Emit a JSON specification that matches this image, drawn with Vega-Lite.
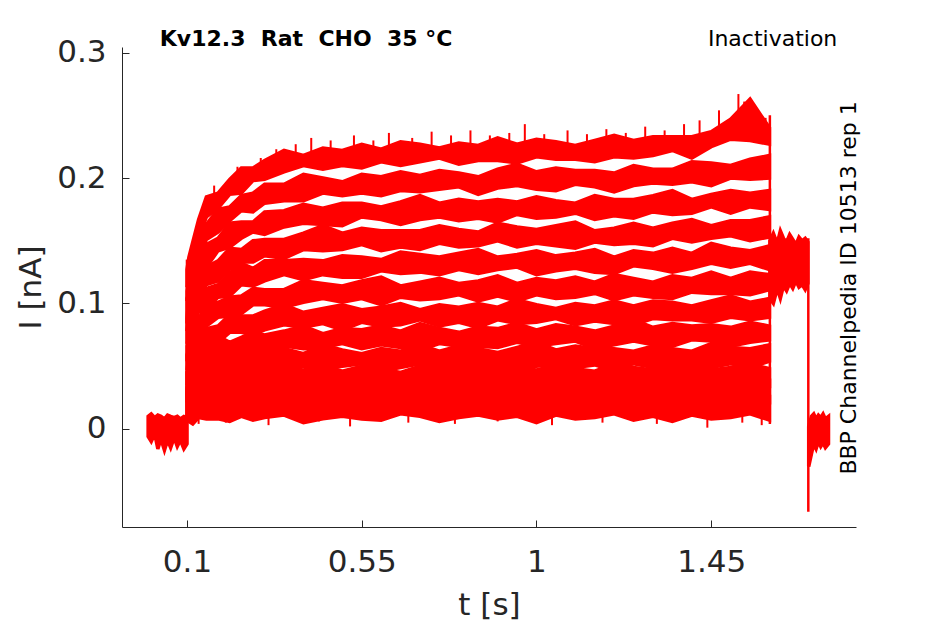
{
  "$schema": "https://vega.github.io/schema/vega-lite/v6.json",
  "width": 734,
  "height": 480,
  "autosize": "none",
  "padding": {"left": 122, "top": 47, "right": 89, "bottom": 97},
  "datasets": {
    "tr": [
      {"k":1,"t":0.1,"h":0.127,"l":0.113},{"k":1,"t":0.105,"h":0.137,"l":0.124},{"k":1,"t":0.115,"h":0.149,"l":0.134},{"k":1,"t":0.13,"h":0.167,"l":0.152},{"k":1,"t":0.15,"h":0.185,"l":0.169},{"k":1,"t":0.18,"h":0.188,"l":0.176},{"k":1,"t":0.21,"h":0.199,"l":0.187},{"k":1,"t":0.24,"h":0.208,"l":0.188},{"k":1,"t":0.27,"h":0.208,"l":0.198},{"k":1,"t":0.3,"h":0.214,"l":0.199},{"k":1,"t":0.35,"h":0.222,"l":0.205},{"k":1,"t":0.4,"h":0.218,"l":0.210},{"k":1,"t":0.45,"h":0.224,"l":0.207},{"k":1,"t":0.5,"h":0.222,"l":0.210},{"k":1,"t":0.55,"h":0.227,"l":0.208},{"k":1,"t":0.6,"h":0.223,"l":0.213},{"k":1,"t":0.65,"h":0.229,"l":0.210},{"k":1,"t":0.7,"h":0.227,"l":0.213},{"k":1,"t":0.75,"h":0.224,"l":0.216},{"k":1,"t":0.8,"h":0.228,"l":0.211},{"k":1,"t":0.85,"h":0.226,"l":0.214},{"k":1,"t":0.9,"h":0.232,"l":0.214},{"k":1,"t":0.95,"h":0.227,"l":0.212},{"k":1,"t":1,"h":0.231,"l":0.217},{"k":1,"t":1.05,"h":0.229,"l":0.215},{"k":1,"t":1.1,"h":0.226,"l":0.215},{"k":1,"t":1.15,"h":0.230,"l":0.213},{"k":1,"t":1.2,"h":0.234,"l":0.217},{"k":1,"t":1.25,"h":0.230,"l":0.216},{"k":1,"t":1.3,"h":0.233,"l":0.218},{"k":1,"t":1.35,"h":0.233,"l":0.222},{"k":1,"t":1.4,"h":0.233,"l":0.216},{"k":1,"t":1.45,"h":0.237,"l":0.225},{"k":1,"t":1.5,"h":0.247,"l":0.231},{"k":1,"t":1.55,"h":0.263,"l":0.230},{"k":1,"t":1.6,"h":0.240,"l":0.227},
      {"k":2,"t":0.1,"h":0.110,"l":0.102},{"k":2,"t":0.105,"h":0.123,"l":0.108},{"k":2,"t":0.115,"h":0.139,"l":0.124},{"k":2,"t":0.13,"h":0.148,"l":0.133},{"k":2,"t":0.15,"h":0.163,"l":0.151},{"k":2,"t":0.18,"h":0.175,"l":0.157},{"k":2,"t":0.21,"h":0.177,"l":0.166},{"k":2,"t":0.24,"h":0.186,"l":0.174},{"k":2,"t":0.27,"h":0.188,"l":0.173},{"k":2,"t":0.3,"h":0.195,"l":0.180},{"k":2,"t":0.35,"h":0.195,"l":0.182},{"k":2,"t":0.4,"h":0.203,"l":0.182},{"k":2,"t":0.45,"h":0.200,"l":0.188},{"k":2,"t":0.5,"h":0.197,"l":0.186},{"k":2,"t":0.55,"h":0.203,"l":0.188},{"k":2,"t":0.6,"h":0.201,"l":0.186},{"k":2,"t":0.65,"h":0.205,"l":0.190},{"k":2,"t":0.7,"h":0.202,"l":0.189},{"k":2,"t":0.75,"h":0.206,"l":0.191},{"k":2,"t":0.8,"h":0.204,"l":0.193},{"k":2,"t":0.85,"h":0.201,"l":0.187},{"k":2,"t":0.9,"h":0.207,"l":0.192},{"k":2,"t":0.95,"h":0.211,"l":0.194},{"k":2,"t":1,"h":0.205,"l":0.191},{"k":2,"t":1.05,"h":0.208,"l":0.190},{"k":2,"t":1.1,"h":0.206,"l":0.195},{"k":2,"t":1.15,"h":0.206,"l":0.193},{"k":2,"t":1.2,"h":0.204,"l":0.189},{"k":2,"t":1.25,"h":0.210,"l":0.194},{"k":2,"t":1.3,"h":0.207,"l":0.196},{"k":2,"t":1.35,"h":0.207,"l":0.195},{"k":2,"t":1.4,"h":0.213,"l":0.197},{"k":2,"t":1.45,"h":0.212,"l":0.194},{"k":2,"t":1.5,"h":0.210,"l":0.200},{"k":2,"t":1.55,"h":0.215,"l":0.199},{"k":2,"t":1.6,"h":0.218,"l":0.200},
      {"k":3,"t":0.1,"h":0.104,"l":0.084},{"k":3,"t":0.105,"h":0.108,"l":0.099},{"k":3,"t":0.115,"h":0.123,"l":0.108},{"k":3,"t":0.13,"h":0.133,"l":0.120},{"k":3,"t":0.15,"h":0.147,"l":0.129},{"k":3,"t":0.18,"h":0.152,"l":0.142},{"k":3,"t":0.21,"h":0.164,"l":0.145},{"k":3,"t":0.24,"h":0.165,"l":0.152},{"k":3,"t":0.27,"h":0.165,"l":0.157},{"k":3,"t":0.3,"h":0.173,"l":0.155},{"k":3,"t":0.35,"h":0.174,"l":0.161},{"k":3,"t":0.4,"h":0.179,"l":0.164},{"k":3,"t":0.45,"h":0.176,"l":0.163},{"k":3,"t":0.5,"h":0.180,"l":0.162},{"k":3,"t":0.55,"h":0.180,"l":0.169},{"k":3,"t":0.6,"h":0.177,"l":0.167},{"k":3,"t":0.65,"h":0.181,"l":0.163},{"k":3,"t":0.7,"h":0.186,"l":0.167},{"k":3,"t":0.75,"h":0.180,"l":0.169},{"k":3,"t":0.8,"h":0.183,"l":0.166},{"k":3,"t":0.85,"h":0.181,"l":0.168},{"k":3,"t":0.9,"h":0.183,"l":0.165},{"k":3,"t":0.95,"h":0.181,"l":0.171},{"k":3,"t":1,"h":0.185,"l":0.168},{"k":3,"t":1.05,"h":0.182,"l":0.169},{"k":3,"t":1.1,"h":0.180,"l":0.172},{"k":3,"t":1.15,"h":0.186,"l":0.167},{"k":3,"t":1.2,"h":0.183,"l":0.170},{"k":3,"t":1.25,"h":0.183,"l":0.168},{"k":3,"t":1.3,"h":0.186,"l":0.173},{"k":3,"t":1.35,"h":0.190,"l":0.171},{"k":3,"t":1.4,"h":0.183,"l":0.172},{"k":3,"t":1.45,"h":0.187,"l":0.177},{"k":3,"t":1.5,"h":0.190,"l":0.172},{"k":3,"t":1.55,"h":0.188,"l":0.177},{"k":3,"t":1.6,"h":0.190,"l":0.175},
      {"k":4,"t":0.1,"h":0.088,"l":0.078},{"k":4,"t":0.105,"h":0.103,"l":0.084},{"k":4,"t":0.115,"h":0.108,"l":0.092},{"k":4,"t":0.13,"h":0.115,"l":0.107},{"k":4,"t":0.15,"h":0.129,"l":0.115},{"k":4,"t":0.18,"h":0.134,"l":0.118},{"k":4,"t":0.21,"h":0.144,"l":0.127},{"k":4,"t":0.24,"h":0.143,"l":0.133},{"k":4,"t":0.27,"h":0.150,"l":0.133},{"k":4,"t":0.3,"h":0.151,"l":0.138},{"k":4,"t":0.35,"h":0.151,"l":0.136},{"k":4,"t":0.4,"h":0.156,"l":0.143},{"k":4,"t":0.45,"h":0.162,"l":0.142},{"k":4,"t":0.5,"h":0.156,"l":0.143},{"k":4,"t":0.55,"h":0.160,"l":0.147},{"k":4,"t":0.6,"h":0.158,"l":0.142},{"k":4,"t":0.65,"h":0.158,"l":0.145},{"k":4,"t":0.7,"h":0.158,"l":0.143},{"k":4,"t":0.75,"h":0.162,"l":0.148},{"k":4,"t":0.8,"h":0.159,"l":0.145},{"k":4,"t":0.85,"h":0.157,"l":0.146},{"k":4,"t":0.9,"h":0.164,"l":0.150},{"k":4,"t":0.95,"h":0.161,"l":0.145},{"k":4,"t":1,"h":0.159,"l":0.148},{"k":4,"t":1.05,"h":0.162,"l":0.146},{"k":4,"t":1.1,"h":0.165,"l":0.144},{"k":4,"t":1.15,"h":0.158,"l":0.149},{"k":4,"t":1.2,"h":0.160,"l":0.147},{"k":4,"t":1.25,"h":0.164,"l":0.148},{"k":4,"t":1.3,"h":0.160,"l":0.146},{"k":4,"t":1.35,"h":0.164,"l":0.152},{"k":4,"t":1.4,"h":0.167,"l":0.149},{"k":4,"t":1.45,"h":0.162,"l":0.152},{"k":4,"t":1.5,"h":0.166,"l":0.154},{"k":4,"t":1.55,"h":0.166,"l":0.150},{"k":4,"t":1.6,"h":0.169,"l":0.153},
      {"k":5,"t":0.1,"h":0.079,"l":0.068},{"k":5,"t":0.105,"h":0.090,"l":0.072},{"k":5,"t":0.115,"h":0.093,"l":0.081},{"k":5,"t":0.13,"h":0.106,"l":0.093},{"k":5,"t":0.15,"h":0.112,"l":0.096},{"k":5,"t":0.18,"h":0.115,"l":0.105},{"k":5,"t":0.21,"h":0.124,"l":0.106},{"k":5,"t":0.24,"h":0.132,"l":0.115},{"k":5,"t":0.27,"h":0.128,"l":0.114},{"k":5,"t":0.3,"h":0.134,"l":0.118},{"k":5,"t":0.35,"h":0.134,"l":0.123},{"k":5,"t":0.4,"h":0.135,"l":0.119},{"k":5,"t":0.45,"h":0.134,"l":0.123},{"k":5,"t":0.5,"h":0.138,"l":0.121},{"k":5,"t":0.55,"h":0.137,"l":0.121},{"k":5,"t":0.6,"h":0.135,"l":0.126},{"k":5,"t":0.65,"h":0.141,"l":0.124},{"k":5,"t":0.7,"h":0.139,"l":0.125},{"k":5,"t":0.75,"h":0.137,"l":0.123},{"k":5,"t":0.8,"h":0.140,"l":0.127},{"k":5,"t":0.85,"h":0.143,"l":0.124},{"k":5,"t":0.9,"h":0.137,"l":0.127},{"k":5,"t":0.95,"h":0.139,"l":0.129},{"k":5,"t":1,"h":0.142,"l":0.123},{"k":5,"t":1.05,"h":0.138,"l":0.126},{"k":5,"t":1.1,"h":0.140,"l":0.128},{"k":5,"t":1.15,"h":0.143,"l":0.125},{"k":5,"t":1.2,"h":0.137,"l":0.124},{"k":5,"t":1.25,"h":0.142,"l":0.130},{"k":5,"t":1.3,"h":0.140,"l":0.128},{"k":5,"t":1.35,"h":0.144,"l":0.125},{"k":5,"t":1.4,"h":0.140,"l":0.128},{"k":5,"t":1.45,"h":0.148,"l":0.132},{"k":5,"t":1.5,"h":0.144,"l":0.129},{"k":5,"t":1.55,"h":0.142,"l":0.132},{"k":5,"t":1.6,"h":0.146,"l":0.127},
      {"k":6,"t":0.1,"h":0.066,"l":0.054},{"k":6,"t":0.105,"h":0.076,"l":0.062},{"k":6,"t":0.115,"h":0.087,"l":0.071},{"k":6,"t":0.13,"h":0.088,"l":0.072},{"k":6,"t":0.15,"h":0.098,"l":0.082},{"k":6,"t":0.18,"h":0.101,"l":0.089},{"k":6,"t":0.21,"h":0.105,"l":0.090},{"k":6,"t":0.24,"h":0.106,"l":0.092},{"k":6,"t":0.27,"h":0.112,"l":0.099},{"k":6,"t":0.3,"h":0.111,"l":0.099},{"k":6,"t":0.35,"h":0.111,"l":0.097},{"k":6,"t":0.4,"h":0.118,"l":0.101},{"k":6,"t":0.45,"h":0.116,"l":0.104},{"k":6,"t":0.5,"h":0.114,"l":0.101},{"k":6,"t":0.55,"h":0.118,"l":0.104},{"k":6,"t":0.6,"h":0.121,"l":0.099},{"k":6,"t":0.65,"h":0.114,"l":0.105},{"k":6,"t":0.7,"h":0.117,"l":0.103},{"k":6,"t":0.75,"h":0.120,"l":0.104},{"k":6,"t":0.8,"h":0.116,"l":0.107},{"k":6,"t":0.85,"h":0.118,"l":0.102},{"k":6,"t":0.9,"h":0.122,"l":0.106},{"k":6,"t":0.95,"h":0.116,"l":0.102},{"k":6,"t":1,"h":0.120,"l":0.107},{"k":6,"t":1.05,"h":0.118,"l":0.104},{"k":6,"t":1.1,"h":0.121,"l":0.105},{"k":6,"t":1.15,"h":0.117,"l":0.108},{"k":6,"t":1.2,"h":0.123,"l":0.103},{"k":6,"t":1.25,"h":0.120,"l":0.107},{"k":6,"t":1.3,"h":0.117,"l":0.105},{"k":6,"t":1.35,"h":0.122,"l":0.104},{"k":6,"t":1.4,"h":0.120,"l":0.109},{"k":6,"t":1.45,"h":0.125,"l":0.108},{"k":6,"t":1.5,"h":0.120,"l":0.108},{"k":6,"t":1.55,"h":0.125,"l":0.107},{"k":6,"t":1.6,"h":0.123,"l":0.111},
      {"k":7,"t":0.1,"h":0.059,"l":0.048},{"k":7,"t":0.105,"h":0.064,"l":0.047},{"k":7,"t":0.115,"h":0.067,"l":0.055},{"k":7,"t":0.13,"h":0.077,"l":0.063},{"k":7,"t":0.15,"h":0.080,"l":0.066},{"k":7,"t":0.18,"h":0.082,"l":0.069},{"k":7,"t":0.21,"h":0.091,"l":0.077},{"k":7,"t":0.24,"h":0.090,"l":0.077},{"k":7,"t":0.27,"h":0.090,"l":0.075},{"k":7,"t":0.3,"h":0.094,"l":0.079},{"k":7,"t":0.35,"h":0.099,"l":0.083},{"k":7,"t":0.4,"h":0.093,"l":0.081},{"k":7,"t":0.45,"h":0.096,"l":0.084},{"k":7,"t":0.5,"h":0.099,"l":0.079},{"k":7,"t":0.55,"h":0.095,"l":0.085},{"k":7,"t":0.6,"h":0.097,"l":0.082},{"k":7,"t":0.65,"h":0.100,"l":0.083},{"k":7,"t":0.7,"h":0.095,"l":0.087},{"k":7,"t":0.75,"h":0.099,"l":0.082},{"k":7,"t":0.8,"h":0.097,"l":0.085},{"k":7,"t":0.85,"h":0.100,"l":0.081},{"k":7,"t":0.9,"h":0.097,"l":0.087},{"k":7,"t":0.95,"h":0.103,"l":0.084},{"k":7,"t":1,"h":0.099,"l":0.085},{"k":7,"t":1.05,"h":0.096,"l":0.088},{"k":7,"t":1.1,"h":0.100,"l":0.083},{"k":7,"t":1.15,"h":0.098,"l":0.086},{"k":7,"t":1.2,"h":0.102,"l":0.084},{"k":7,"t":1.25,"h":0.098,"l":0.083},{"k":7,"t":1.3,"h":0.102,"l":0.088},{"k":7,"t":1.35,"h":0.101,"l":0.087},{"k":7,"t":1.4,"h":0.098,"l":0.087},{"k":7,"t":1.45,"h":0.102,"l":0.085},{"k":7,"t":1.5,"h":0.106,"l":0.089},{"k":7,"t":1.55,"h":0.101,"l":0.087},{"k":7,"t":1.6,"h":0.104,"l":0.089},
      {"k":8,"t":0.1,"h":0.047,"l":0.035},{"k":8,"t":0.105,"h":0.057,"l":0.041},{"k":8,"t":0.115,"h":0.058,"l":0.040},{"k":8,"t":0.13,"h":0.060,"l":0.050},{"k":8,"t":0.15,"h":0.068,"l":0.052},{"k":8,"t":0.18,"h":0.074,"l":0.056},{"k":8,"t":0.21,"h":0.069,"l":0.061},{"k":8,"t":0.24,"h":0.073,"l":0.058},{"k":8,"t":0.27,"h":0.077,"l":0.062},{"k":8,"t":0.3,"h":0.075,"l":0.060},{"k":8,"t":0.35,"h":0.078,"l":0.066},{"k":8,"t":0.4,"h":0.082,"l":0.064},{"k":8,"t":0.45,"h":0.076,"l":0.065},{"k":8,"t":0.5,"h":0.080,"l":0.068},{"k":8,"t":0.55,"h":0.079,"l":0.064},{"k":8,"t":0.6,"h":0.082,"l":0.067},{"k":8,"t":0.65,"h":0.078,"l":0.065},{"k":8,"t":0.7,"h":0.084,"l":0.063},{"k":8,"t":0.75,"h":0.080,"l":0.068},{"k":8,"t":0.8,"h":0.077,"l":0.066},{"k":8,"t":0.85,"h":0.081,"l":0.066},{"k":8,"t":0.9,"h":0.080,"l":0.065},{"k":8,"t":0.95,"h":0.084,"l":0.069},{"k":8,"t":1,"h":0.079,"l":0.066},{"k":8,"t":1.05,"h":0.083,"l":0.068},{"k":8,"t":1.1,"h":0.081,"l":0.070},{"k":8,"t":1.15,"h":0.078,"l":0.064},{"k":8,"t":1.2,"h":0.082,"l":0.067},{"k":8,"t":1.25,"h":0.087,"l":0.070},{"k":8,"t":1.3,"h":0.081,"l":0.067},{"k":8,"t":1.35,"h":0.084,"l":0.066},{"k":8,"t":1.4,"h":0.082,"l":0.071},{"k":8,"t":1.45,"h":0.083,"l":0.070},{"k":8,"t":1.5,"h":0.081,"l":0.066},{"k":8,"t":1.55,"h":0.085,"l":0.069},{"k":8,"t":1.6,"h":0.082,"l":0.071},
      {"k":9,"t":0.1,"h":0.046,"l":0.027},{"k":9,"t":0.105,"h":0.041,"l":0.030},{"k":9,"t":0.115,"h":0.046,"l":0.036},{"k":9,"t":0.13,"h":0.053,"l":0.035},{"k":9,"t":0.15,"h":0.052,"l":0.041},{"k":9,"t":0.18,"h":0.056,"l":0.041},{"k":9,"t":0.21,"h":0.061,"l":0.041},{"k":9,"t":0.24,"h":0.056,"l":0.047},{"k":9,"t":0.27,"h":0.061,"l":0.046},{"k":9,"t":0.3,"h":0.060,"l":0.047},{"k":9,"t":0.35,"h":0.064,"l":0.046},{"k":9,"t":0.4,"h":0.060,"l":0.050},{"k":9,"t":0.45,"h":0.067,"l":0.048},{"k":9,"t":0.5,"h":0.063,"l":0.050},{"k":9,"t":0.55,"h":0.060,"l":0.052},{"k":9,"t":0.6,"h":0.064,"l":0.046},{"k":9,"t":0.65,"h":0.062,"l":0.049},{"k":9,"t":0.7,"h":0.067,"l":0.052},{"k":9,"t":0.75,"h":0.062,"l":0.049},{"k":9,"t":0.8,"h":0.066,"l":0.048},{"k":9,"t":0.85,"h":0.064,"l":0.053},{"k":9,"t":0.9,"h":0.061,"l":0.051},{"k":9,"t":0.95,"h":0.065,"l":0.047},{"k":9,"t":1,"h":0.069,"l":0.050},{"k":9,"t":1.05,"h":0.063,"l":0.052},{"k":9,"t":1.1,"h":0.066,"l":0.049},{"k":9,"t":1.15,"h":0.064,"l":0.051},{"k":9,"t":1.2,"h":0.064,"l":0.046},{"k":9,"t":1.25,"h":0.062,"l":0.052},{"k":9,"t":1.3,"h":0.066,"l":0.049},{"k":9,"t":1.35,"h":0.064,"l":0.051},{"k":9,"t":1.4,"h":0.062,"l":0.054},{"k":9,"t":1.45,"h":0.068,"l":0.049},{"k":9,"t":1.5,"h":0.065,"l":0.052},{"k":9,"t":1.55,"h":0.064,"l":0.049},{"k":9,"t":1.6,"h":0.067,"l":0.054},
      {"k":10,"t":0.1,"h":0.034,"l":0.022},{"k":10,"t":0.105,"h":0.039,"l":0.021},{"k":10,"t":0.115,"h":0.035,"l":0.025},{"k":10,"t":0.13,"h":0.041,"l":0.029},{"k":10,"t":0.15,"h":0.041,"l":0.025},{"k":10,"t":0.18,"h":0.046,"l":0.030},{"k":10,"t":0.21,"h":0.043,"l":0.033},{"k":10,"t":0.24,"h":0.050,"l":0.031},{"k":10,"t":0.27,"h":0.046,"l":0.030},{"k":10,"t":0.3,"h":0.044,"l":0.036},{"k":10,"t":0.35,"h":0.049,"l":0.035},{"k":10,"t":0.4,"h":0.047,"l":0.031},{"k":10,"t":0.45,"h":0.051,"l":0.034},{"k":10,"t":0.5,"h":0.046,"l":0.036},{"k":10,"t":0.55,"h":0.050,"l":0.033},{"k":10,"t":0.6,"h":0.048,"l":0.035},{"k":10,"t":0.65,"h":0.045,"l":0.030},{"k":10,"t":0.7,"h":0.050,"l":0.037},{"k":10,"t":0.75,"h":0.054,"l":0.034},{"k":10,"t":0.8,"h":0.048,"l":0.035},{"k":10,"t":0.85,"h":0.051,"l":0.038},{"k":10,"t":0.9,"h":0.049,"l":0.033},{"k":10,"t":0.95,"h":0.049,"l":0.036},{"k":10,"t":1,"h":0.047,"l":0.032},{"k":10,"t":1.05,"h":0.051,"l":0.037},{"k":10,"t":1.1,"h":0.048,"l":0.034},{"k":10,"t":1.15,"h":0.046,"l":0.035},{"k":10,"t":1.2,"h":0.052,"l":0.038},{"k":10,"t":1.25,"h":0.049,"l":0.033},{"k":10,"t":1.3,"h":0.047,"l":0.036},{"k":10,"t":1.35,"h":0.051,"l":0.035},{"k":10,"t":1.4,"h":0.054,"l":0.033},{"k":10,"t":1.45,"h":0.047,"l":0.038},{"k":10,"t":1.5,"h":0.049,"l":0.036},{"k":10,"t":1.55,"h":0.052,"l":0.036},{"k":10,"t":1.6,"h":0.048,"l":0.034},
      {"k":11,"t":0.1,"h":0.033,"l":0.008},{"k":11,"t":0.105,"h":0.030,"l":0.012},{"k":11,"t":0.115,"h":0.037,"l":0.015},{"k":11,"t":0.13,"h":0.034,"l":0.013},{"k":11,"t":0.15,"h":0.032,"l":0.016},{"k":11,"t":0.18,"h":0.037,"l":0.012},{"k":11,"t":0.21,"h":0.036,"l":0.019},{"k":11,"t":0.24,"h":0.040,"l":0.016},{"k":11,"t":0.27,"h":0.035,"l":0.017},{"k":11,"t":0.3,"h":0.040,"l":0.021},{"k":11,"t":0.35,"h":0.038,"l":0.016},{"k":11,"t":0.4,"h":0.035,"l":0.019},{"k":11,"t":0.45,"h":0.039,"l":0.015},{"k":11,"t":0.5,"h":0.043,"l":0.020},{"k":11,"t":0.55,"h":0.038,"l":0.018},{"k":11,"t":0.6,"h":0.041,"l":0.019},{"k":11,"t":0.65,"h":0.039,"l":0.022},{"k":11,"t":0.7,"h":0.039,"l":0.017},{"k":11,"t":0.75,"h":0.037,"l":0.020},{"k":11,"t":0.8,"h":0.041,"l":0.018},{"k":11,"t":0.85,"h":0.038,"l":0.016},{"k":11,"t":0.9,"h":0.036,"l":0.021},{"k":11,"t":0.95,"h":0.042,"l":0.019},{"k":11,"t":1,"h":0.039,"l":0.019},{"k":11,"t":1.05,"h":0.037,"l":0.017},{"k":11,"t":1.1,"h":0.040,"l":0.021},{"k":11,"t":1.15,"h":0.043,"l":0.018},{"k":11,"t":1.2,"h":0.036,"l":0.020},{"k":11,"t":1.25,"h":0.038,"l":0.022},{"k":11,"t":1.3,"h":0.041,"l":0.016},{"k":11,"t":1.35,"h":0.037,"l":0.019},{"k":11,"t":1.4,"h":0.039,"l":0.021},{"k":11,"t":1.45,"h":0.043,"l":0.019},{"k":11,"t":1.5,"h":0.037,"l":0.018},{"k":11,"t":1.55,"h":0.041,"l":0.023},{"k":11,"t":1.6,"h":0.039,"l":0.021},
      {"k":12,"t":0.1,"h":0.028,"l":0.008},{"k":12,"t":0.105,"h":0.026,"l":0.006},{"k":12,"t":0.115,"h":0.030,"l":0.004},{"k":12,"t":0.13,"h":0.025,"l":0.009},{"k":12,"t":0.15,"h":0.030,"l":0.008},{"k":12,"t":0.18,"h":0.028,"l":0.008},{"k":12,"t":0.21,"h":0.025,"l":0.006},{"k":12,"t":0.24,"h":0.029,"l":0.010},{"k":12,"t":0.27,"h":0.033,"l":0.007},{"k":12,"t":0.3,"h":0.027,"l":0.009},{"k":12,"t":0.35,"h":0.030,"l":0.011},{"k":12,"t":0.4,"h":0.028,"l":0.005},{"k":12,"t":0.45,"h":0.028,"l":0.008},{"k":12,"t":0.5,"h":0.026,"l":0.010},{"k":12,"t":0.55,"h":0.031,"l":0.008},{"k":12,"t":0.6,"h":0.028,"l":0.007},{"k":12,"t":0.65,"h":0.026,"l":0.012},{"k":12,"t":0.7,"h":0.032,"l":0.010},{"k":12,"t":0.75,"h":0.029,"l":0.006},{"k":12,"t":0.8,"h":0.027,"l":0.009},{"k":12,"t":0.85,"h":0.030,"l":0.011},{"k":12,"t":0.9,"h":0.033,"l":0.008},{"k":12,"t":0.95,"h":0.026,"l":0.010},{"k":12,"t":1,"h":0.028,"l":0.005},{"k":12,"t":1.05,"h":0.031,"l":0.011},{"k":12,"t":1.1,"h":0.027,"l":0.008},{"k":12,"t":1.15,"h":0.029,"l":0.009},{"k":12,"t":1.2,"h":0.032,"l":0.012},{"k":12,"t":1.25,"h":0.026,"l":0.007},{"k":12,"t":1.3,"h":0.030,"l":0.010},{"k":12,"t":1.35,"h":0.028,"l":0.006},{"k":12,"t":1.4,"h":0.031,"l":0.011},{"k":12,"t":1.45,"h":0.027,"l":0.008},{"k":12,"t":1.5,"h":0.033,"l":0.009},{"k":12,"t":1.55,"h":0.029,"l":0.012},{"k":12,"t":1.6,"h":0.026,"l":0.007},
      {"k":"b","t":0,"h":0.010,"l":-0.006},{"k":"b","t":0.008,"h":0.012,"l":-0.010},{"k":"b","t":0.017,"h":0.009,"l":-0.004},{"k":"b","t":0.025,"h":0.011,"l":-0.016},{"k":"b","t":0.033,"h":0.010,"l":-0.008},{"k":"b","t":0.042,"h":0.008,"l":-0.017},{"k":"b","t":0.05,"h":0.011,"l":-0.009},{"k":"b","t":0.058,"h":0.010,"l":-0.015},{"k":"b","t":0.067,"h":0.009,"l":-0.007},{"k":"b","t":0.075,"h":0.010,"l":-0.014},{"k":"b","t":0.083,"h":0.008,"l":-0.009},{"k":"b","t":0.092,"h":0.010,"l":-0.016},{"k":"b","t":0.1,"h":0.009,"l":-0.012},
      {"k":"s","t":1.601,"h":0.150,"l":0.104},{"k":"s","t":1.61,"h":0.156,"l":0.100},{"k":"s","t":1.62,"h":0.148,"l":0.112},{"k":"s","t":1.628,"h":0.158,"l":0.104},{"k":"s","t":1.636,"h":0.152,"l":0.114},{"k":"s","t":1.644,"h":0.149,"l":0.110},{"k":"s","t":1.652,"h":0.155,"l":0.116},{"k":"s","t":1.66,"h":0.151,"l":0.112},{"k":"s","t":1.668,"h":0.147,"l":0.118},{"k":"s","t":1.676,"h":0.153,"l":0.113},{"k":"s","t":1.684,"h":0.150,"l":0.115},{"k":"s","t":1.692,"h":0.152,"l":0.111},{"k":"s","t":1.699,"h":0.149,"l":0.116},
      {"k":"e","t":1.701,"h":0.002,"l":-0.030},{"k":"e","t":1.708,"h":0.010,"l":-0.020},{"k":"e","t":1.714,"h":0.012,"l":-0.012},{"k":"e","t":1.72,"h":0.008,"l":-0.016},{"k":"e","t":1.726,"h":0.011,"l":-0.010},{"k":"e","t":1.732,"h":0.009,"l":-0.014},{"k":"e","t":1.738,"h":0.012,"l":-0.011},{"k":"e","t":1.744,"h":0.008,"l":-0.015},{"k":"e","t":1.752,"h":0.010,"l":-0.012}
    ],
    "edges": [
      {"t":0.1,"h":0.135,"l":-0.012},
      {"t":1.601,"h":0.25,"l":0.004},
      {"t":1.7,"h":0.152,"l":-0.066}
    ],
    "spikes": [
      {"t":0.17,"h":0.194,"l":0.183},{"t":0.23,"h":0.209,"l":0.196},{"t":0.29,"h":0.216,"l":0.204},{"t":0.33,"h":0.223,"l":0.208},{"t":0.38,"h":0.227,"l":0.212},{"t":0.42,"h":0.232,"l":0.213},{"t":0.47,"h":0.230,"l":0.214},{"t":0.53,"h":0.234,"l":0.216},{"t":0.58,"h":0.230,"l":0.216},{"t":0.62,"h":0.236,"l":0.217},{"t":0.68,"h":0.232,"l":0.218},{"t":0.73,"h":0.237,"l":0.218},{"t":0.78,"h":0.234,"l":0.219},{"t":0.83,"h":0.238,"l":0.219},{"t":0.88,"h":0.234,"l":0.220},{"t":0.93,"h":0.236,"l":0.220},{"t":0.97,"h":0.243,"l":0.220},{"t":1.02,"h":0.235,"l":0.221},{"t":1.08,"h":0.238,"l":0.221},{"t":1.13,"h":0.235,"l":0.222},{"t":1.18,"h":0.239,"l":0.222},{"t":1.23,"h":0.236,"l":0.223},{"t":1.28,"h":0.241,"l":0.224},{"t":1.33,"h":0.238,"l":0.225},{"t":1.38,"h":0.243,"l":0.226},{"t":1.42,"h":0.246,"l":0.228},{"t":1.47,"h":0.254,"l":0.232},{"t":1.52,"h":0.267,"l":0.238},{"t":1.535,"h":0.261,"l":0.238},{"t":1.57,"h":0.253,"l":0.233},{"t":1.59,"h":0.248,"l":0.230},
      {"t":0.13,"h":0.012,"l":0.004},{"t":0.2,"h":0.012,"l":0.005},{"t":0.31,"h":0.012,"l":0.003},{"t":0.44,"h":0.012,"l":0.006},{"t":0.52,"h":0.012,"l":0.002},{"t":0.67,"h":0.012,"l":0.005},{"t":0.79,"h":0.012,"l":0.004},{"t":0.9,"h":0.012,"l":0.006},{"t":1.04,"h":0.012,"l":0.003},{"t":1.17,"h":0.012,"l":0.005},{"t":1.31,"h":0.012,"l":0.004},{"t":1.44,"h":0.012,"l":0.001},{"t":1.53,"h":0.012,"l":0.005},{"t":1.58,"h":0.012,"l":0.003}
    ]
  },
  "encoding": {
    "x": {
      "field": "t", "type": "quantitative",
      "scale": {"domain": [-0.0673, 1.8228], "nice": false, "zero": false},
      "axis": {"values": [0.1, 0.55, 1, 1.45], "format": ".3~g", "title": "t [s]"}
    },
    "y": {
      "field": "h", "type": "quantitative",
      "scale": {"domain": [-0.0782, 0.3045], "nice": false, "zero": false},
      "axis": {"values": [0, 0.1, 0.2, 0.3], "format": ".3~g", "title": "I [nA]"}
    }
  },
  "layer": [
    {
      "data": {"name": "tr"},
      "mark": {"type": "area", "color": "#ff0000", "stroke": "#ff0000", "strokeWidth": 3.5, "strokeJoin": "miter"},
      "encoding": {
        "y2": {"field": "l"},
        "detail": {"field": "k", "type": "nominal"}
      }
    },
    {
      "data": {"name": "edges"},
      "mark": {"type": "rule", "color": "#ff0000", "strokeWidth": 2.5},
      "encoding": {"y2": {"field": "l"}}
    },
    {
      "data": {"name": "spikes"},
      "mark": {"type": "rule", "color": "#ff0000", "strokeWidth": 2},
      "encoding": {"y2": {"field": "l"}}
    },
    {
      "data": {"values": [{"t": 0.4068, "h": 0.3106, "s": "Kv12.3\u00a0 Rat\u00a0 CHO\u00a0 35 °C"}]},
      "mark": {"type": "text", "font": "DejaVu Sans", "fontSize": 22, "fontWeight": "bold", "align": "center", "baseline": "middle", "color": "#000000"},
      "encoding": {"text": {"field": "s"}}
    },
    {
      "data": {"values": [{"t": 1.7746, "h": 0.3106, "s": "Inactivation"}]},
      "mark": {"type": "text", "font": "DejaVu Sans", "fontSize": 22, "align": "right", "baseline": "middle", "color": "#000000"},
      "encoding": {"text": {"field": "s"}}
    },
    {
      "data": {"values": [{"t": 1.8055, "h": 0.1124, "s": "BBP Channelpedia ID 10513 rep 1"}]},
      "mark": {"type": "text", "font": "DejaVu Sans", "fontSize": 22, "angle": 270, "align": "center", "baseline": "middle", "color": "#000000"},
      "encoding": {"text": {"field": "s"}}
    }
  ],
  "config": {
    "view": {"stroke": null},
    "font": "DejaVu Sans",
    "axis": {
      "grid": false,
      "domainColor": "#262626",
      "tickColor": "#262626",
      "labelColor": "#262626",
      "titleColor": "#262626",
      "labelFont": "DejaVu Sans",
      "titleFont": "DejaVu Sans",
      "labelFontSize": 31,
      "titleFontSize": 31,
      "titleFontWeight": "normal",
      "tickSize": -7
    },
    "axisX": {"labelPadding": 27, "titlePadding": 13},
    "axisY": {"labelPadding": 23, "titlePadding": 9}
  }
}
